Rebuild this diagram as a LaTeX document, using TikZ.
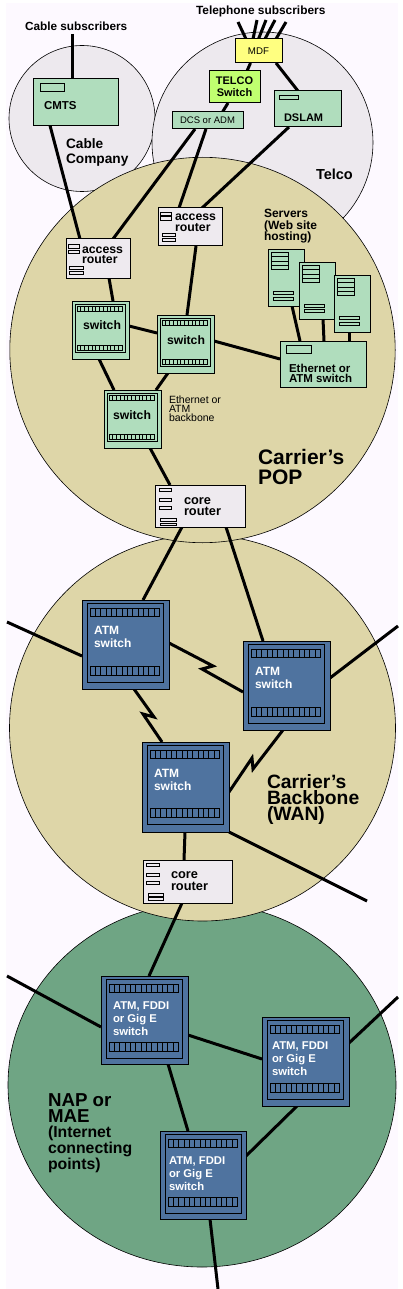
\documentclass[tikz,border=0pt]{standalone}
\usepackage{fontspec}
\setmainfont{Liberation Sans}
\usetikzlibrary{backgrounds}

\definecolor{pagetint}{HTML}{FDF9FF}
\definecolor{greyring}{HTML}{EDE9EE}
\definecolor{tanring}{HTML}{DED6A8}
\definecolor{napring}{HTML}{6FA584}
\definecolor{mintbox}{HTML}{B0DDBD}
\definecolor{steelbox}{HTML}{4F739F}
\definecolor{routerbox}{HTML}{EEEAEF}
\definecolor{mdfbox}{HTML}{FFFF80}
\definecolor{telcobox}{HTML}{C0FF70}

\tikzset{
  ring/.style={draw=black,line width=0.6pt},
  unit/.style={draw=black,line width=1pt,anchor=north west,inner sep=0pt,outer sep=0pt,align=center},
  mintunit/.style={unit,fill=mintbox},
  routerunit/.style={unit,fill=routerbox},
  smallswitch/.style={unit,fill=mintbox,minimum width=57pt,minimum height=58pt},
  atmswitch/.style={unit,fill=steelbox,minimum width=87pt,minimum height=89pt},
  serverunit/.style={unit,fill=mintbox,minimum width=36pt,minimum height=57pt},
  conn/.style={draw=black,line width=3pt},
  txt/.style={anchor=west,align=left,inner sep=0pt,outer sep=0pt},
  boldtxt/.style 2 args={txt,font=\bfseries\fontsize{#1}{#2}\selectfont},
  plaintxt/.style 2 args={txt,font=\fontsize{#1}{#2}\selectfont}
}

% plain slots: node, then x/y/w/h measured from its top left corner
\newcommand{\slots}[2]{
  \begin{scope}[shift={(#1.north west)}]
    \foreach \sx/\sy/\sw/\sh in {#2}
      \draw[line width=0.8pt] ({\sx+0.4},{\sy+0.4}) rectangle ++({\sw-0.8},{\sh-0.8});
  \end{scope}
}
\newcommand{\portstrip}[5]{
  \draw[line width=1pt] (#1,#2) rectangle (#3,#4);
  \foreach \pp in {1,...,#5}
    \draw[line width=0.8pt] ({#1+(#3-#1)*\pp/(#5+1)},#2) -- ({#1+(#3-#1)*\pp/(#5+1)},#4);
}
\newcommand{\smallfaces}[1]{
  \begin{scope}[shift={(#1.north west)}]
    \draw[line width=1pt] (3,3) rectangle (53,51);
    \portstrip{5}{5.5}{50}{10.5}{11}
    \portstrip{5}{44}{50}{49}{11}
  \end{scope}
}
\newcommand{\atmfaces}[1]{
  \begin{scope}[shift={(#1.north west)}]
    \draw[line width=1pt] (5,3) rectangle (81,82.5);
    \portstrip{8}{8}{77.5}{16}{12}
    \portstrip{8}{66}{77.5}{75}{12}
  \end{scope}
}

\begin{document}
\begin{tikzpicture}[x=1pt,y=-1pt]
\useasboundingbox (0,0) rectangle (402,1289);

% rings
\begin{pgfonlayer}{background}
\fill[white] (0,0) rectangle (402,1289);
\fill[pagetint] (6,3) rectangle (398,1289);
\draw[ring,fill=napring] (202,1085) ellipse [x radius=194,y radius=182];
\draw[ring,fill=tanring] (202.5,728) circle [radius=193];
\draw[ring,fill=greyring] (82,118.5) circle [radius=73];
\draw[ring,fill=greyring] (262.5,142.5) circle [radius=110.5];
\draw[ring,fill=tanring] (202.5,350) circle [radius=192.7];
\end{pgfonlayer}

% telco and cable side
\node[boldtxt={11.8}{12}] (cable_sub) at (25,26) {Cable subscribers};
\node[boldtxt={11.9}{12}] (tel_sub) at (196,11) {Telephone subscribers};
\node[mintunit,minimum width=85.7pt,minimum height=46.5pt] (cmts) at (33,79) {};
\node[boldtxt={11.5}{12}] (cmts_txt) at (44,106) {CMTS};
\node[unit,fill=mdfbox,minimum width=47pt,minimum height=24pt,font=\fontsize{9.7}{10}\selectfont] (mdf) at (235,39) {MDF};
\node[unit,fill=telcobox,minimum width=51pt,minimum height=32pt,font=\bfseries\fontsize{11}{12}\selectfont] (telco) at (209,71) {TELCO\\Switch};
\node[mintunit,minimum width=71pt,minimum height=17pt,font=\fontsize{9.5}{10}\selectfont] (dcs) at (172,112) {DCS or ADM};
\node[mintunit,minimum width=67pt,minimum height=36pt] (dslam) at (274,91) {};
\node[boldtxt={11}{12}] (dslam_txt) at (284,118) {DSLAM};
\node[boldtxt={13.7}{15}] (cable_txt) at (66,152.5) {Cable\\Company};
\node[boldtxt={14.5}{15}] (telco_txt) at (316,174) {Telco};

% carrier's pop
\node[routerunit,minimum width=64pt,minimum height=38pt] (router_a) at (158,208) {};
\node[boldtxt={12.3}{11}] (router_a_txt) at (175,222.5) {access\\router};
\node[routerunit,minimum width=64pt,minimum height=39pt] (router_b) at (66,239) {};
\node[boldtxt={12.3}{10.5}] (router_b_txt) at (82,255) {access\\router};
\node[boldtxt={12}{11.5}] (servers_txt) at (264,226.5) {Servers\\(Web site\\hosting)};
\node[serverunit] (srv_a) at (268,249) {};
\node[serverunit] (srv_b) at (299,262) {};
\node[serverunit] (srv_c) at (334,275) {};
\node[mintunit,minimum width=86pt,minimum height=46pt] (eth) at (280,341) {};
\node[boldtxt={11.5}{10}] (eth_txt) at (289,373) {Ethernet or\\ATM switch};
\node[smallswitch] (sw_a) at (72,301) {};
\node[smallswitch] (sw_b) at (157,315) {};
\node[smallswitch] (sw_c) at (104,390) {};
\smallfaces{sw_a}
\smallfaces{sw_b}
\smallfaces{sw_c}
\node[boldtxt={12.2}{12}] (sw_a_txt) at (83,325) {switch};
\node[boldtxt={12.2}{12}] (sw_b_txt) at (167,340) {switch};
\node[boldtxt={12.2}{12}] (sw_c_txt) at (113,415) {switch};
\node[plaintxt={10.5}{9}] (backbone_txt) at (169,409) {Ethernet or\\ATM\\backbone};
\node[boldtxt={21}{20}] (pop_txt) at (258,467) {Carrier\symbol{39}s\\POP};
\node[routerunit,minimum width=90pt,minimum height=42pt] (core_a) at (155,485) {};
\node[boldtxt={12.8}{11.5}] (core_a_txt) at (184,506.5) {core\\router};
\slots{cmts}{6.5/4.5/25/8}
\slots{dslam}{5/4/20/5}
\slots{eth}{6/4/26/9}
\slots{router_a}{2/4/12/4,2/8.5/12/4,4/25/14/3.7,4/30/14/3.7}
\slots{router_b}{2/5/12/4.5,2/11/12/4,3/27/15/3.7,3/32/15/3.7}
\slots{core_a}{4/3/13/3.5,4/13/13/3.5,4/21/13/3.5,5/33.3/17/3.4,5/37.7/17/3.3}
\slots{srv_a}{3/3/18/5.1,3/7.3/18/5.1,3/11.6/18/5.1,3/15.9/18/5.1,5/42/21/4,5/48/21/4}
\slots{srv_b}{3/3/18/5.1,3/7.3/18/5.1,3/11.6/18/5.1,3/15.9/18/5.1,5/42/21/4,5/47/21/4}
\slots{srv_c}{3/3/18/5.1,3/7.3/18/5.1,3/11.6/18/5.1,3/15.9/18/5.1,5/41/21/4,5/47/21/4}

% backbone
\node[atmswitch] (atm_a) at (82,600) {};
\node[atmswitch] (atm_b) at (243,641) {};
\node[atmswitch,minimum height=90pt] (atm_c) at (142,742) {};
\atmfaces{atm_a}
\atmfaces{atm_b}
\atmfaces{atm_c}
\node[boldtxt={12}{13},text=white] (atm_a_txt) at (94,636.5) {ATM\\switch};
\node[boldtxt={12}{13},text=white] (atm_b_txt) at (255,677.5) {ATM\\switch};
\node[boldtxt={12}{13},text=white] (atm_c_txt) at (154,779.5) {ATM\\switch};
\node[boldtxt={19.3}{16}] (wan_txt) at (267,800) {Carrier\symbol{39}s\\Backbone\\(WAN)};
\node[routerunit,minimum width=89pt,minimum height=43pt] (core_b) at (143,860) {};
\node[boldtxt={12.8}{12}] (core_b_txt) at (171,881) {core\\router};
\slots{core_b}{3/3/14/3.5,3/13/14/3.5,3/21/14/3.5,5/33.3/16/3.4,5/37.3/16/3.4}

% nap
\node[atmswitch,minimum height=88pt] (nap_a) at (101,976) {};
\node[atmswitch] (nap_b) at (262,1017) {};
\node[atmswitch,minimum width=86pt,minimum height=88pt] (nap_c) at (160,1131) {};
\atmfaces{nap_a}
\atmfaces{nap_b}
\atmfaces{nap_c}
\node[boldtxt={11.3}{13},text=white] (nap_a_txt) at (113,1019) {ATM, FDDI\\or Gig E\\switch};
\node[boldtxt={11.3}{13},text=white] (nap_b_txt) at (272,1059) {ATM, FDDI\\or Gig E\\switch};
\node[boldtxt={11.3}{13},text=white] (nap_c_txt) at (169,1174) {ATM, FDDI\\or Gig E\\switch};
\node[boldtxt={18.7}{16}] (nap_txt) at (48,1108) {NAP or\\MAE};
\node[boldtxt={15.8}{13}] (points_txt) at (48,1149.5) {(Internet\\connecting\\points)};

% free ends
\coordinate (cable_drop) at (72.5,34);
\coordinate (tel_a) at (238,22);
\coordinate (tel_b) at (257,20);
\coordinate (tel_c) at (266,20);
\coordinate (tel_d) at (275,20);
\coordinate (tel_e) at (286,22);
\coordinate (wan_w) at (7,622);
\coordinate (wan_e) at (398,626);
\coordinate (wan_s) at (367,901);
\coordinate (nap_w) at (7,976);
\coordinate (nap_e) at (398,997);
\coordinate (nap_s) at (218,1289);

\begin{pgfonlayer}{background}
\draw[conn] (cable_drop) -- ([xshift=39.5pt]cmts.north west);
\draw[conn] (tel_a) -- ([xshift=11pt]mdf.north west);
\draw[conn] (tel_b) -- ([xshift=18pt]mdf.north west);
\draw[conn] (tel_c) -- ([xshift=23.5pt]mdf.north west);
\draw[conn] (tel_d) -- ([xshift=30pt]mdf.north west);
\draw[conn] (tel_e) -- ([xshift=41pt]mdf.north west);
\draw[conn] ([xshift=15.5pt]mdf.south west) -- ([xshift=38pt]telco.north west);
\draw[conn] ([xshift=19pt]telco.south west) -- ([xshift=50.5pt]dcs.north west);
\draw[conn] ([xshift=41pt]mdf.south west) -- ([xshift=24pt]dslam.north west);
\draw[conn] ([xshift=17pt]cmts.south west) -- ([xshift=14pt]router_b.north west);
\draw[conn] ([xshift=23pt]dcs.south west) -- ([xshift=47pt]router_b.north west);
\draw[conn] ([xshift=34pt]dcs.south west) -- ([xshift=21pt]router_a.north west);
\draw[conn] ([xshift=15pt]dslam.south west) -- ([xshift=44pt]router_a.north west);
\draw[conn] ([xshift=43pt]router_b.south west) -- ([xshift=41pt]sw_a.north west);
\draw[conn] ([xshift=38pt]router_a.south west) -- ([xshift=30pt]sw_b.north west);
\draw[conn] ([yshift=-25pt]sw_a.north east) -- ([yshift=-18pt]sw_b.north west);
\draw[conn] ([yshift=-26pt]sw_b.north east) -- ([yshift=-18pt]eth.north west);
\draw[conn] ([xshift=27pt]sw_a.south west) -- ([xshift=10pt]sw_c.north west);
\draw[conn] ([xshift=11pt]sw_b.south west) -- ([xshift=52pt]sw_c.north west);
\draw[conn] ([xshift=46pt]sw_c.south west) -- ([xshift=15pt]core_a.north west);
\draw[conn] ([xshift=24pt]srv_a.south west) -- ([xshift=20pt]eth.north west);
\draw[conn] ([xshift=24pt]srv_b.south west) -- ([xshift=44pt]eth.north west);
\draw[conn] ([xshift=15pt]srv_c.south west) -- ([xshift=69pt]eth.north west);
\draw[conn] ([xshift=27pt]core_a.south west) -- ([xshift=61pt]atm_a.north west);
\draw[conn] ([xshift=71pt]core_a.south west) -- ([xshift=20pt]atm_b.north west);
\draw[conn] (wan_w) -- ([yshift=-56pt]atm_a.north west);
\draw[conn] (wan_e) -- ([yshift=-37pt]atm_b.north east);
\draw[conn] ([yshift=-43pt]atm_a.north east) -- ++(44,23) -- ++(-11,3) -- ([yshift=-51pt]atm_b.north west);
\draw[conn] ([xshift=52pt]atm_a.south west) -- ++(20,28) -- ++(-11,-3) -- ([xshift=20pt]atm_c.north west);
\draw[conn] ([xshift=40pt]atm_b.south west) -- ++(-30,39) -- ++(-1,-11) -- ([yshift=-50pt]atm_c.north east);
\draw[conn] (atm_c.south east) -- (wan_s);
\draw[conn] ([xshift=43pt]atm_c.south west) -- ([xshift=41pt]core_b.north west);
\draw[conn] ([xshift=39pt]core_b.south west) -- ([xshift=48pt]nap_a.north west);
\draw[conn] (nap_w) -- ([yshift=-51pt]nap_a.north west);
\draw[conn] ([yshift=-59pt]nap_a.north east) -- ([yshift=-42pt]nap_b.north west);
\draw[conn] (nap_e) -- ([yshift=-26pt]nap_b.north east);
\draw[conn] ([xshift=67pt]nap_a.south west) -- ([xshift=28pt]nap_c.north west);
\draw[conn] ([xshift=35pt]nap_b.south west) -- ([yshift=-25pt]nap_c.north east);
\draw[conn] ([xshift=50pt]nap_c.south west) -- (nap_s);
\end{pgfonlayer}
\end{tikzpicture}
\end{document}
